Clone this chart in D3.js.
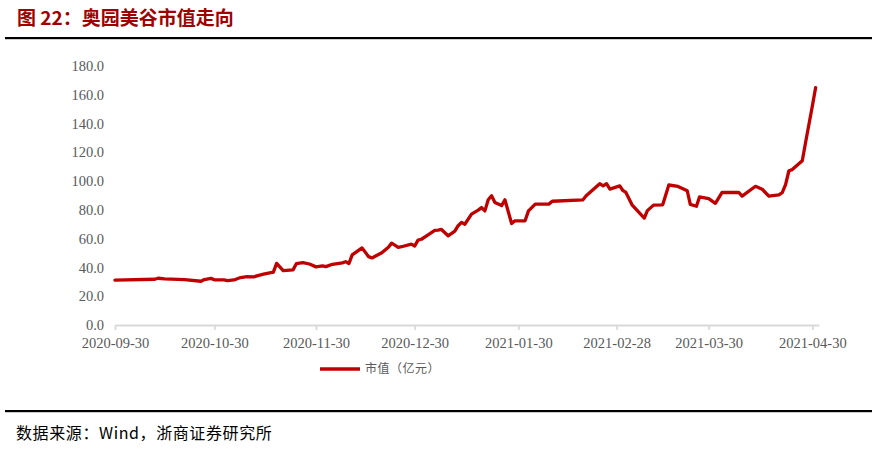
<!DOCTYPE html>
<html>
<head>
<meta charset="utf-8">
<script src="https://cdn.jsdelivr.net/npm/d3@7"></script>
<style>
html,body{margin:0;padding:0;background:#fff;}
svg{display:block;}
</style>
</head>
<body>
<svg id="chart" width="877" height="449"></svg>
<script>
// ---- data ----
const title = "图 22：奥园美谷市值走向";
const source = "数据来源：Wind，浙商证券研究所";
const seriesName = "市值（亿元）";
const dates = [
"2020-09-30","2020-10-12","2020-10-13","2020-10-15","2020-10-21","2020-10-26","2020-10-27","2020-10-29",
"2020-10-30","2020-11-02","2020-11-03","2020-11-05","2020-11-07","2020-11-09","2020-11-11","2020-11-12",
"2020-11-14","2020-11-17","2020-11-18","2020-11-20","2020-11-23","2020-11-24","2020-11-26","2020-11-28",
"2020-11-30","2020-12-02","2020-12-03","2020-12-05","2020-12-08","2020-12-09","2020-12-10","2020-12-11",
"2020-12-14","2020-12-16","2020-12-17","2020-12-20","2020-12-22","2020-12-23","2020-12-25","2020-12-26",
"2020-12-29","2020-12-30","2020-12-31","2021-01-01","2021-01-03","2021-01-05","2021-01-06","2021-01-07",
"2021-01-09","2021-01-11","2021-01-12","2021-01-13","2021-01-14","2021-01-16","2021-01-18","2021-01-19",
"2021-01-20","2021-01-21","2021-01-22","2021-01-23","2021-01-25","2021-01-26","2021-01-28","2021-01-29",
"2021-02-01","2021-02-02","2021-02-04","2021-02-08","2021-02-09","2021-02-18","2021-02-19","2021-02-23",
"2021-02-24","2021-02-25","2021-02-26","2021-03-01","2021-03-02","2021-03-03","2021-03-05","2021-03-09",
"2021-03-10","2021-03-12","2021-03-15","2021-03-17","2021-03-20","2021-03-23","2021-03-24","2021-03-26",
"2021-03-27","2021-03-30","2021-04-01","2021-04-03","2021-04-08","2021-04-09","2021-04-13","2021-04-15",
"2021-04-17","2021-04-20","2021-04-21","2021-04-22","2021-04-23","2021-04-24","2021-04-27","2021-04-28",
"2021-04-29","2021-04-30","2021-05-01"
];
const values = [
31.2,31.8,32.5,32.0,31.5,30.4,31.6,32.4,
31.4,31.3,30.8,31.3,33.0,33.6,33.4,34.1,
35.3,36.7,42.8,37.8,38.3,42.6,43.4,42.4,
40.4,41.1,40.6,42.2,43.2,44.0,42.7,48.7,
53.6,47.5,46.6,50.2,54.0,56.9,54.0,54.4,
56.2,54.9,59.0,59.6,62.6,65.7,65.9,66.4,
62.0,65.2,69.0,71.3,70.0,77.0,79.8,81.6,
79.3,87.0,89.8,85.1,83.0,87.0,70.5,72.4,
72.4,79.3,84.0,84.0,86.0,86.9,89.8,98.2,
96.7,98.2,94.4,96.7,93.5,92.1,83.5,74.3,
79.5,83.3,83.5,97.3,96.3,93.3,83.8,82.5,
89.0,87.8,84.6,92.1,92.1,89.6,96.4,94.4,
89.5,90.5,92.0,97.5,107.2,108.0,114.2,127.0,
139.5,152.0,165.0
];
const xTickLabels = ["2020-09-30","2020-10-30","2020-11-30","2020-12-30","2021-01-30","2021-02-28","2021-03-30","2021-04-30"];
const yTicks = [0,20,40,60,80,100,120,140,160,180];

// ---- layout ----
const parse = d3.timeParse("%Y-%m-%d");
const svg = d3.select("#chart");
const axisColor = "#d9d9d9";
const textColor = "#595959";
const lineColor = "#c00000";

// piecewise time scale: breakpoints at tick dates
const xDomain = xTickLabels.map(parse).concat([parse("2021-05-02")]);
const x = d3.scaleTime()
  .domain(xDomain)
  .range([115, 214.3, 316, 414.7, 518.3, 616.7, 708.7, 812.3, 819]);
const y = d3.scaleLinear().domain([0, 180]).range([325, 66]);

// title
svg.append("text")
  .attr("x", 17).attr("y", 25)
  .attr("font-family", "'Noto Sans CJK SC', sans-serif")
  .attr("font-weight", "bold")
  .attr("font-size", 19)
  .attr("fill", "#a00000")
  .text(title);

// rules
svg.append("rect").attr("x", 5).attr("y", 37).attr("width", 867).attr("height", 2.2).attr("fill", "#000");
svg.append("rect").attr("x", 5).attr("y", 410).attr("width", 867).attr("height", 2.2).attr("fill", "#000");

// y labels
svg.append("g").selectAll("text").data(yTicks).join("text")
  .attr("x", 104)
  .attr("y", d => y(d))
  .attr("dy", "0.35em")
  .attr("text-anchor", "end")
  .attr("font-family", "'Liberation Serif', serif")
  .attr("font-size", 14.5)
  .attr("fill", textColor)
  .text(d => d3.format(".1f")(d));

// x axis
const xAxis = d3.axisBottom(x)
  .tickValues(xTickLabels.map(parse))
  .tickFormat(d3.timeFormat("%Y-%m-%d"))
  .tickSizeInner(5)
  .tickSizeOuter(0)
  .tickPadding(8);
const gx = svg.append("g").attr("transform", `translate(0,${y(0)})`).call(xAxis);
gx.select(".domain").attr("stroke", axisColor).attr("stroke-width", 1.8);
gx.selectAll(".tick line").attr("stroke", axisColor).attr("stroke-width", 1.8);
gx.selectAll(".tick text")
  .attr("font-family", "'Liberation Serif', serif")
  .attr("font-size", 14.5)
  .attr("fill", textColor);

// line
const data = dates.map((d, i) => ({date: parse(d), value: values[i]}));
svg.append("path")
  .datum(data)
  .attr("fill", "none")
  .attr("stroke", lineColor)
  .attr("stroke-width", 3.3)
  .attr("stroke-linejoin", "round")
  .attr("stroke-linecap", "round")
  .attr("d", d3.line().x(d => x(d.date)).y(d => y(d.value)));

// legend
const lg = svg.append("g").attr("transform", "translate(320,369)");
lg.append("line").attr("x1", 0).attr("x2", 40).attr("y1", 0).attr("y2", 0)
  .attr("stroke", lineColor).attr("stroke-width", 3.5);
lg.append("text").attr("x", 45).attr("y", 0).attr("dy", "0.35em")
  .attr("font-family", "'Noto Sans CJK SC', sans-serif")
  .attr("font-size", 12)
  .attr("letter-spacing", 0.5)
  .attr("fill", textColor)
  .text(seriesName);

// source
svg.append("text")
  .attr("x", 16).attr("y", 439)
  .attr("font-family", "'Noto Sans CJK SC', sans-serif")
  .attr("font-size", 16)
  .attr("letter-spacing", 0.6)
  .attr("fill", "#000")
  .text(source);
</script>
</body>
</html>
